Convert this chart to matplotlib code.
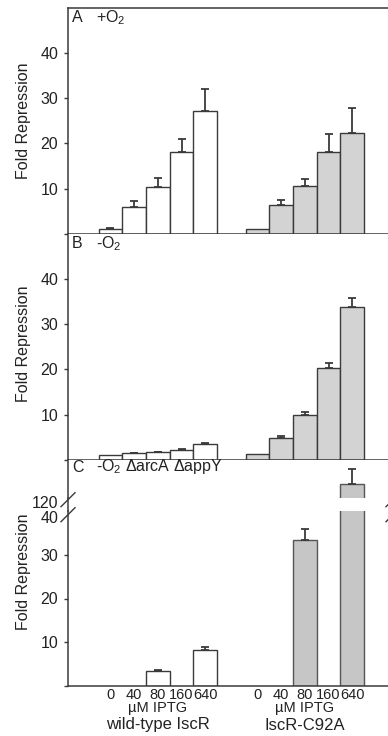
import numpy as np
import matplotlib
matplotlib.use("Agg")
import matplotlib.pyplot as plt
from matplotlib.lines import Line2D
from matplotlib.transforms import blended_transform_factory, ScaledTranslation

plt.rcParams['font.family'] = ['Liberation Sans', 'DejaVu Sans']
plt.rcParams['mathtext.fontset'] = 'custom'
plt.rcParams['mathtext.rm'] = 'Liberation Sans'
plt.rcParams['mathtext.it'] = 'Liberation Sans:italic'

# ---------------- data ----------------
iptg = ['0', '40', '80', '160', '640']
strains = ['wild-type IscR', 'IscR-C92A']

a_wt = [1.0, 5.9, 10.4, 18.1, 27.2]
a_wt_err = [0.2, 1.3, 1.9, 2.9, 4.9]
a_mut = [1.0, 6.3, 10.6, 18.2, 22.3]
a_mut_err = [0.0, 1.2, 1.6, 3.8, 5.6]

b_wt = [1.1, 1.4, 1.6, 2.1, 3.4]
b_wt_err = [0.0, 0.05, 0.1, 0.25, 0.35]
b_mut = [1.2, 4.9, 10.0, 20.2, 33.8]
b_mut_err = [0.0, 0.4, 0.5, 1.1, 2.0]

c_wt = [np.nan, np.nan, 3.5, np.nan, 8.3]
c_wt_err = [0.0, 0.0, 0.2, 0.0, 0.6]
c_mut = [np.nan, np.nan, 33.3, np.nan, 123.1]
c_mut_err = [0.0, 0.0, 2.6, 0.0, 3.5]

panel_titles = ['+O$_2$', '-O$_2$', '-O$_2$ ΔarcA ΔappY']

# ---------------- layout ----------------
W, H = 388, 736
fig = plt.figure(figsize=(W / 100, H / 100), dpi=100)

def fx(px):
    return px / W

def fy(py):
    return 1 - py / H

LEFT = 68
RIGHT = 393
def add_ax(top, bottom):
    return fig.add_axes([fx(LEFT), fy(bottom), (RIGHT - LEFT) / W, (bottom - top) / H])

axA = add_ax(8, 233.7)
axB = add_ax(233.7, 459.7)
axCu = add_ax(459.7, 498)
axCl = add_ax(511, 686)

EC = '#3a3a3a'
WHITE = 'white'
GRAY = '#d3d3d3'
GRAY_C = '#c6c6c6'

x_wt = np.arange(5)
x_mut = np.arange(5) + 6.2
XLIM = (-1.79, 11.92)

def draw(ax, vals, errs, xs, color, ec=EC):
    vals = np.asarray(vals, float)
    errs = np.asarray(errs, float)
    m = ~np.isnan(vals)
    ax.bar(xs[m], vals[m], width=1.0, color=color, edgecolor=ec, linewidth=1.0, zorder=2)
    e = m & (errs > 0)
    ax.errorbar(xs[e], vals[e], yerr=[np.zeros(e.sum()), errs[e]], fmt='none',
                ecolor=EC, elinewidth=1.3, capsize=3, capthick=1.3, zorder=3)

def style(ax):
    for s in ax.spines.values():
        s.set_color(EC)
        s.set_linewidth(1.1)
    ax.set_xlim(*XLIM)
    ax.tick_params(axis='y', direction='out', length=3, width=1.0, color=EC,
                   labelsize=11.5, pad=4, labelcolor='#222222')
    ax.tick_params(axis='x', length=0, labelbottom=False)

for ax, (w, we, mu, me) in [(axA, (a_wt, a_wt_err, a_mut, a_mut_err)),
                            (axB, (b_wt, b_wt_err, b_mut, b_mut_err))]:
    draw(ax, w, we, x_wt, WHITE)
    draw(ax, mu, me, x_mut, GRAY)
    style(ax)
    ax.set_ylim(0, 50)
    ax.set_yticks([0, 10, 20, 30, 40])
    ax.set_yticklabels(['', '10', '20', '30', '40'])

axB.spines['top'].set_visible(False)

# panel C
draw(axCl, c_wt, c_wt_err, x_wt, WHITE)
c_mut_low = np.asarray(c_mut, float)
axCl.bar(x_mut[~np.isnan(c_mut_low)], c_mut_low[~np.isnan(c_mut_low)], width=1.0,
         color=GRAY_C, edgecolor='#555555', linewidth=1.0, zorder=2)
m_err = (~np.isnan(c_mut_low)) & (c_mut_low < 40) & (np.asarray(c_mut_err) > 0)
axCl.errorbar(x_mut[m_err], c_mut_low[m_err],
              yerr=[np.zeros(m_err.sum()), np.asarray(c_mut_err)[m_err]], fmt='none',
              ecolor=EC, elinewidth=1.3, capsize=3, capthick=1.3, zorder=3)
style(axCl)
axCl.set_ylim(0, 40)
axCl.set_yticks([0, 10, 20, 30, 40])
axCl.set_yticklabels(['', '10', '20', '30', '40'])
axCl.spines['top'].set_visible(False)
axCl.set_xticks(np.concatenate([x_wt, x_mut]))
axCl.set_xticklabels(iptg + iptg)
axCl.tick_params(axis='x', labelbottom=True, labelsize=10.5, pad=1.5, labelcolor='#222222')

m_up = (~np.isnan(c_mut_low)) & (c_mut_low > 120)
axCu.bar(x_mut[m_up], c_mut_low[m_up], width=1.0, color=GRAY_C,
         edgecolor='#555555', linewidth=1.0, zorder=2)
axCu.errorbar(x_mut[m_up], c_mut_low[m_up],
              yerr=[np.zeros(m_up.sum()), np.asarray(c_mut_err)[m_up]], fmt='none',
              ecolor=EC, elinewidth=1.3, capsize=3, capthick=1.3, zorder=3)
style(axCu)
axCu.set_ylim(120, 128.75)
axCu.set_yticks([120])
axCu.set_yticklabels(['120'])
axCu.spines['bottom'].set_visible(False)
axCu.spines['top'].set_visible(False)

# break tick labels: no tick marks, slightly shifted down
for ax, dy in [(axCu, -4), (axCl, -6)]:
    for t in ax.yaxis.get_major_ticks():
        if t.label1.get_text() in ('120', '40'):
            t.tick1line.set_visible(False)
            t.label1.set_transform(t.label1.get_transform() +
                                   ScaledTranslation(0, dy / 100, fig.dpi_scale_trans))

# continuous spines across the break gap and break marks
for xs in (LEFT, RIGHT):
    fig.add_artist(Line2D([fx(xs), fx(xs)], [fy(498), fy(511)], color=EC, lw=1.1,
                          transform=fig.transFigure))
    for cy in (499.7, 514.7):
        fig.add_artist(Line2D([fx(xs - 7), fx(xs + 7)], [fy(cy + 7), fy(cy - 7)],
                              color=EC, lw=1.0, transform=fig.transFigure))

# panel labels
for letter, title, py in [('A', panel_titles[0], 18), ('B', panel_titles[1], 244),
                          ('C', panel_titles[2], 467)]:
    fig.text(fx(72), fy(py), letter, fontsize=11.5, va='center', ha='left', color='#222222')
    fig.text(fx(95.5), fy(py), title, fontsize=11.5, va='center', ha='left', color='#222222')

# y labels
for py in (121, 344, 572):
    fig.text(fx(24), fy(py), 'Fold Repression', rotation=90, fontsize=11.5,
             va='center', ha='center', color='#222222')

# group labels under panel C
tr = blended_transform_factory(axCl.transData, fig.transFigure)
for xc, name in [(x_wt.mean(), strains[0]), (x_mut.mean(), strains[1])]:
    axCl.text(xc, fy(708), 'µM IPTG', transform=tr, ha='center', va='center',
              fontsize=10.5, color='#222222')
    axCl.text(xc, fy(725), name, transform=tr, ha='center', va='center',
              fontsize=12, color='#222222')

fig.savefig('out.png', dpi=100)
